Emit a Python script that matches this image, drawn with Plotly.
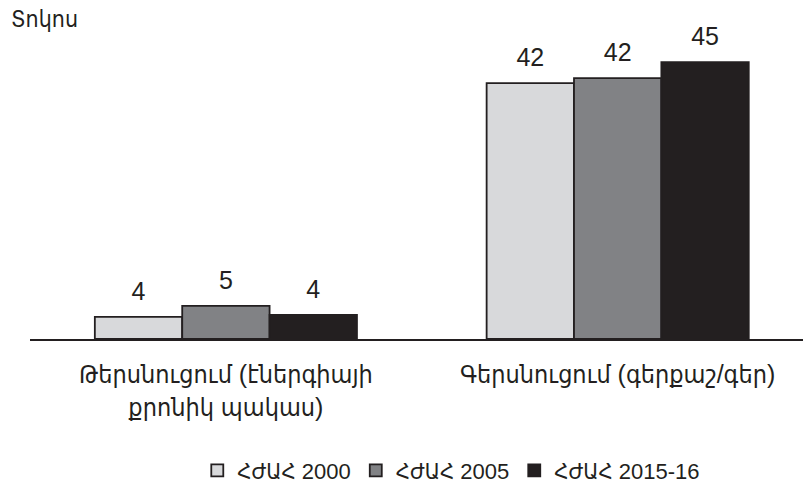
import plotly.graph_objects as go

categories = ["Թերսնուցում (էներգիայի<br>քրոնիկ պակաս)", "Գերսնուցում (գերքաշ/գեր)"]
series_names = ["ՀԺԱՀ 2000", "ՀԺԱՀ 2005", "ՀԺԱՀ 2015-16"]
values_2000 = [3.6, 41.6]
values_2005 = [5.4, 42.4]
values_2016 = [3.9, 45.0]
y_title = "Տոկոս"

series_values = [values_2000, values_2005, values_2016]
colors = ["#d8d9db", "#818285", "#231f20"]
ink = "#231f20"
FONT = "Liberation Sans, DejaVu Sans Condensed, sans-serif"

fig = go.Figure()
for name, vals, col in zip(series_names, series_values, colors):
    fig.add_trace(go.Bar(
        x=categories, y=vals, name=name,
        marker=dict(color=col, line=dict(color=ink, width=1.8)),
        hoverinfo="skip",
    ))
for name, vals in zip(series_names, series_values):
    fig.add_trace(go.Scatter(
        x=categories, y=vals, mode="markers+text",
        text=[f"{v:.0f}" for v in vals], textposition="top center",
        textfont=dict(size=25, color=ink, family=FONT),
        marker=dict(size=16, opacity=0),
        showlegend=False, hoverinfo="skip", cliponaxis=False,
    ))

fig.update_layout(
    width=803, height=484,
    margin=dict(l=30, r=0, t=40, b=145, autoexpand=False),
    paper_bgcolor="white", plot_bgcolor="white",
    barmode="group", bargap=0.331, bargroupgap=0,
    scattermode="group", scattergap=0.331,
    font=dict(family=FONT, color=ink),
    title=dict(text=y_title, x=11/803, xanchor="left", xref="container",
               y=1 - 19/484, yanchor="middle", yref="container",
               font=dict(size=23, color=ink, family=FONT)),
    xaxis=dict(range=[-0.5, 1.473], showline=True, linecolor=ink, linewidth=2,
               showgrid=False, zeroline=False, ticks="",
               tickfont=dict(size=25, color=ink, family=FONT),
               ticklabelstandoff=12, fixedrange=True),
    yaxis=dict(range=[0, 48.6], visible=False, showgrid=False, fixedrange=True),
    legend=dict(orientation="h", x=0.545, xanchor="center", y=-0.44, yanchor="middle",
                font=dict(size=22, color=ink, family=FONT), traceorder="normal",
                itemwidth=30),
    showlegend=True,
)

fig.write_html("out.html", config={"displayModeBar": False},
               post_script="document.body.style.margin='0';document.body.style.overflow='hidden';")
